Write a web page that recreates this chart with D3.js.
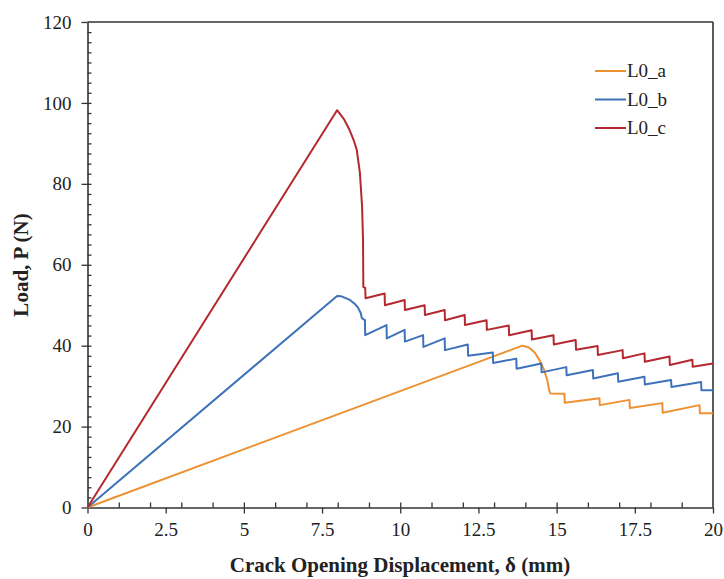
<!DOCTYPE html>
<html>
<head>
<meta charset="utf-8">
<script src="https://cdn.jsdelivr.net/npm/d3@7"></script>
<style>
  html, body { margin: 0; padding: 0; background: #fff; }
  svg { display: block; }
  text { font-family: "Liberation Serif", "Times New Roman", serif; fill: #222; }
</style>
</head>
<body>
<svg id="chart" width="724" height="579"></svg>
<script>
// Load vs. crack opening displacement for three specimens, [δ (mm), P (N)]
const seriesNames = ["L0_a", "L0_b", "L0_c"];
const seriesColors = ["#EE9132", "#3F72B8", "#B5282F"];

const L0_a = [
  [0, 0], [13.9, 40.0], [14.1, 39.6], [14.3, 38.3], [14.46, 36.3], [14.6, 34.0],
  [14.7, 31.5], [14.76, 29.0], [14.8, 28.2], [15.25, 28.1], [15.26, 25.9],
  [16.37, 27.0], [16.38, 25.3], [17.33, 26.6], [17.34, 24.6], [18.38, 25.8],
  [18.39, 23.4], [19.57, 25.3], [19.58, 23.3], [20, 23.3]
];

const L0_b = [
  [0, 0], [7.98, 52.3], [8.12, 52.2], [8.39, 51.3], [8.55, 50.3], [8.65, 49.4],
  [8.74, 48.0], [8.77, 46.8], [8.87, 46.3], [8.88, 42.6],
  [9.56, 45.1], [9.57, 41.8], [10.14, 43.9], [10.15, 41.0], [10.73, 42.6], [10.74, 39.7],
  [11.42, 41.8], [11.43, 38.9], [12.16, 40.3], [12.17, 37.5], [12.96, 38.3], [12.97, 35.7],
  [13.71, 36.8], [13.72, 34.3], [14.51, 35.6], [14.52, 33.4], [15.31, 34.7], [15.32, 32.7],
  [16.16, 34.0], [16.17, 31.9], [16.96, 33.2], [16.97, 31.1], [17.81, 32.3], [17.82, 30.4],
  [18.66, 31.5], [18.67, 29.8], [19.62, 31.0], [19.63, 29.0], [20, 29.0]
];

const L0_c = [
  [0, 0], [7.98, 98.2], [8.2, 96.0], [8.38, 93.3], [8.52, 90.6], [8.61, 88.4],
  [8.71, 82.7], [8.78, 74.3], [8.81, 66.0], [8.82, 54.5], [8.88, 54.3], [8.89, 51.7],
  [9.50, 52.9], [9.51, 50.0], [10.14, 51.3], [10.15, 48.8], [10.78, 50.0], [10.79, 47.6],
  [11.42, 48.8], [11.43, 46.3], [12.06, 47.6], [12.07, 45.1], [12.76, 46.3], [12.77, 43.9],
  [13.47, 45.0], [13.48, 42.6], [14.20, 43.8], [14.21, 41.5], [14.90, 42.6], [14.91, 40.3],
  [15.61, 41.4], [15.62, 39.0], [16.31, 39.9], [16.32, 37.7], [17.11, 38.9], [17.12, 36.9],
  [17.81, 38.1], [17.82, 36.0], [18.61, 37.3], [18.62, 35.2], [19.34, 36.5], [19.35, 34.8],
  [20, 35.6]
];

const xMajorTicks = [0, 2.5, 5, 7.5, 10, 12.5, 15, 17.5, 20];
const xTickLabels = ["0", "2.5", "5", "7.5", "10", "12.5", "15", "17.5", "20"];
const xMinorTicks = d3.range(1, 20, 1);
const yMajorTicks = [0, 20, 40, 60, 80, 100, 120];
const yMinorTicks = d3.range(2.5, 120, 2.5);

const svg = d3.select("#chart");
const plotLeft = 87.5, plotRight = 713, plotTop = 22, plotBottom = 507.5;

const x = d3.scaleLinear().domain([0, 20]).range([plotLeft, plotRight]);
const y = d3.scaleLinear().domain([0, 120]).range([plotBottom, plotTop]);

const axisColor = "#333";

// minor ticks point inward
svg.append("g")
  .attr("transform", `translate(0,${plotBottom})`)
  .call(d3.axisTop(x).tickValues(xMinorTicks).tickSize(5).tickFormat(""))
  .call(g => g.select(".domain").remove());
svg.append("g")
  .attr("transform", `translate(${plotLeft},0)`)
  .call(d3.axisRight(y).tickValues(yMinorTicks).tickSize(4).tickFormat(""))
  .call(g => g.select(".domain").remove());

// major ticks point outward, with labels
svg.append("g")
  .attr("transform", `translate(0,${plotBottom})`)
  .call(d3.axisBottom(x).tickValues(xMajorTicks).tickSizeInner(6).tickSizeOuter(0).tickPadding(9)
    .tickFormat((d, i) => xTickLabels[i]));
svg.append("g")
  .attr("transform", `translate(${plotLeft},0)`)
  .call(d3.axisLeft(y).tickValues(yMajorTicks).tickSizeInner(6).tickSizeOuter(0).tickPadding(10));

svg.selectAll(".tick line").attr("stroke", axisColor).attr("stroke-width", 1.3);
svg.selectAll(".domain").attr("stroke", axisColor).attr("stroke-width", 1.6);
svg.selectAll(".tick text")
  .style("font-family", '"Liberation Serif", "Times New Roman", serif')
  .style("font-size", "19px")
  .attr("fill", "#222");

// frame on top and right
svg.append("line").attr("x1", plotLeft).attr("x2", plotRight).attr("y1", plotTop).attr("y2", plotTop)
  .attr("stroke", axisColor).attr("stroke-width", 1.6);
svg.append("line").attr("x1", plotRight).attr("x2", plotRight).attr("y1", plotTop).attr("y2", plotBottom)
  .attr("stroke", axisColor).attr("stroke-width", 1.6);

// curves
const line = d3.line().x(d => x(d[0])).y(d => y(d[1]));
const allSeries = [L0_a, L0_b, L0_c];
allSeries.forEach((data, i) => {
  svg.append("path")
    .datum(data)
    .attr("fill", "none")
    .attr("stroke", seriesColors[i])
    .attr("stroke-width", 2)
    .attr("stroke-linejoin", "round")
    .attr("d", line);
});

// legend
const legend = svg.append("g").attr("transform", "translate(595,71)");
seriesNames.forEach((name, i) => {
  const row = legend.append("g").attr("transform", `translate(0,${i * 28.5})`);
  row.append("line").attr("x1", 0).attr("x2", 31).attr("y1", 0).attr("y2", 0)
    .attr("stroke", seriesColors[i]).attr("stroke-width", 2);
  row.append("text").attr("x", 32).attr("y", 6)
    .style("font-size", "19px").text(name);
});

// axis titles
svg.append("text")
  .attr("x", 400).attr("y", 572)
  .attr("text-anchor", "middle")
  .style("font-size", "21px").style("font-weight", "bold")
  .text("Crack Opening Displacement, δ (mm)");
svg.append("text")
  .attr("transform", "translate(28,265) rotate(-90)")
  .attr("text-anchor", "middle")
  .style("font-size", "21px").style("font-weight", "bold")
  .text("Load, P (N)");
</script>
</body>
</html>
